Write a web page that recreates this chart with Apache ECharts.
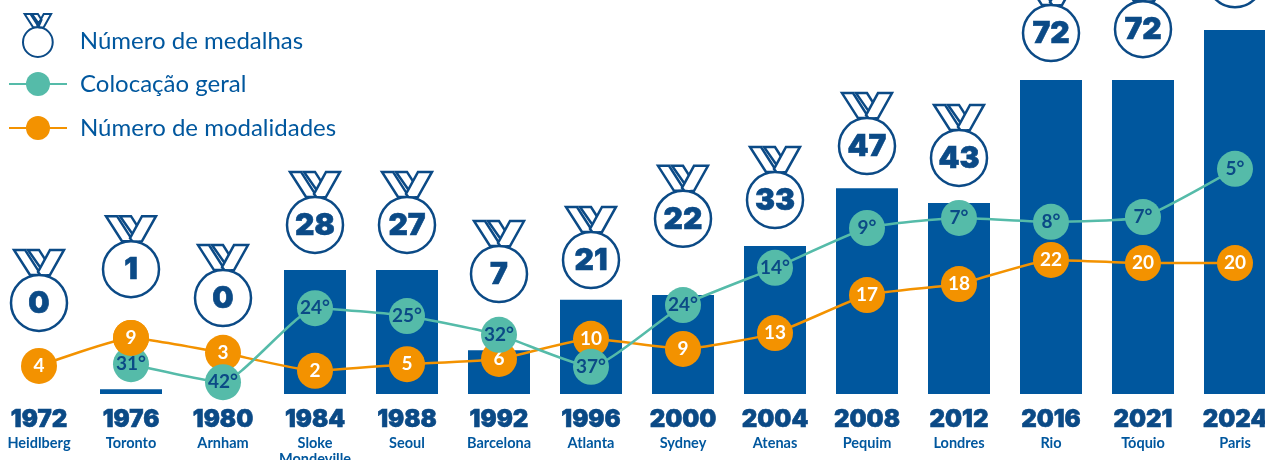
<!DOCTYPE html>
<html>
<head>
<meta charset="utf-8">
<style>
  html, body { margin: 0; padding: 0; background: #fff; overflow: hidden; }
  #chart { width: 1265px; height: 460px; }
</style>
<script src="https://cdn.jsdelivr.net/npm/echarts@6/dist/echarts.min.js"></script>
</head>
<body>
<div id="chart"></div>
<script>
const years = ["1972","1976","1980","1984","1988","1992","1996","2000","2004","2008","2012","2016","2021","2024"];
const cities = ["Heidlberg","Toronto","Arnham","Sloke\nMondeville","Seoul","Barcelona","Atlanta","Sydney","Atenas","Pequim","Londres","Rio","Tóquio","Paris"];

// bar heights and the heights the artwork puts things at (bar axis units)
const medalBars = [0, 1.1, 0, 28.3, 28.3, 10, 21.5, 22.6, 33.8, 47, 43.6, 71.7, 71.7, 83.1];
const medalHeights = [20.8, 28.5, 21.9, 38.6, 38.6, 27.4, 30.6, 40, 44.3, 56.6, 53.9, 82.4, 83.3, 94.7];
const rankHeights = [null, 6.8, 2.7, 19.6, 17.8, 13.5, 6.2, 20.3, 28.8, 37.9, 40.2, 39.3, 40.4, 51.4];
const sportHeights = [6.4, 12.8, 9.4, 5.3, 6.8, 8, 12.6, 10.3, 13.9, 22.6, 25.1, 30.6, 29.9, 29.9];

// printed numbers
const medalLabels = ["0","1","0","28","27","7","21","22","33","47","43","72","72",""];
const rankLabels = ["","31°","42°","24°","25°","32°","37°","24°","14°","9°","7°","8°","7°","5°"];
const sportLabels = ["4","9","3","2","5","6","10","9","13","17","18","22","20","20"];

const NAVY = "#0b4a86";
const BAR = "#00579e";
const TEAL = "#55bba9";
const ORANGE = "#f39200";
const TEXT_FONT = "Lato";
const HEAVY_FONT = "Inter";

// ribbon bands relative to the medal centre
const ribbonBands = [
  [[-25,-53],[-14,-53],[2,-28],[-9,-28]],
  [[-11,-53],[0,-53],[7,-42],[3,-33]],
  [[25,-53],[11,-53],[-1,-31],[2,-27],[11,-28]],
];
const MEDAL_R = 28;

const bandPath = ribbonBands.map((b) =>
  "M" + b.map((p) => p.join(" ")).join("L") + "Z").join("");
const medalIcon = "path://" + bandPath +
  `M${-MEDAL_R} 0A${MEDAL_R} ${MEDAL_R} 0 1 1 ${MEDAL_R} 0A${MEDAL_R} ${MEDAL_R} 0 1 1 ${-MEDAL_R} 0Z`;

const renderMedal = (params, api) => {
  const [cx, cy] = api.coord([api.value(0), api.value(1)]);
  const style = { fill: "#fff", stroke: NAVY, lineWidth: 2.5 };
  const bands = ribbonBands.map((b) => ({
    type: "polygon",
    shape: { points: b.map(([x, y]) => [cx + x, cy + y]) },
    style,
  }));
  return {
    type: "group",
    children: [
      ...bands,
      { type: "circle", shape: { cx, cy, r: MEDAL_R }, style },
      {
        type: "text",
        style: {
          x: cx,
          y: cy + 1,
          text: medalLabels[params.dataIndex],
          fill: NAVY,
          stroke: NAVY,
          lineWidth: 0.6,
          font: `900 30px ${HEAVY_FONT}`,
          align: "center",
          verticalAlign: "middle",
        },
      },
    ],
  };
};

const pointLabel = (labels, color) => ({
  show: true,
  position: "inside",
  formatter: (p) => labels[p.dataIndex],
  color,
  fontFamily: TEXT_FONT,
  fontWeight: 700,
  fontSize: 19,
});

const legendBase = {
  orient: "vertical",
  padding: 0,
  itemWidth: 58,
  textStyle: { color: BAR, fontFamily: TEXT_FONT, fontSize: 24, padding: [0, 0, 0, 8] },
};

const chart = echarts.init(document.getElementById("chart"));
chart.setOption({
  animation: false,
  backgroundColor: "#fff",
  grid: { left: -7, right: -16, top: -44, bottom: 66, outerBoundsMode: "none" },
  legend: [
    {
      ...legendBase,
      left: 22,
      top: 13,
      itemHeight: 43,
      data: [{ name: "Número de medalhas", icon: medalIcon }],
      itemStyle: { color: "#fff", borderColor: NAVY, borderWidth: 2 },
      // text sits level with the ring, not the middle of the whole icon
      formatter: (name) => "\n" + name,
      textStyle: { ...legendBase.textStyle, lineHeight: 11 },
    },
    {
      ...legendBase,
      left: 8,
      top: 72,
      itemHeight: 30,
      itemGap: 20,
      data: ["Colocação geral", "Número de modalidades"],
    },
  ],
  xAxis: {
    type: "category",
    data: years,
    axisLine: { show: false },
    axisTick: { show: false },
    axisLabel: {
      interval: 0,
      margin: 11,
      verticalAlign: "top",
      formatter: (v, i) => {
        const lines = cities[i].split("\n").map((c) => `{city|${c}}`).join("\n");
        return `{year|${v}}\n${lines}`;
      },
      rich: {
        year: { fontFamily: HEAVY_FONT, fontWeight: 900, fontSize: 24, color: NAVY, lineHeight: 30, textBorderColor: NAVY, textBorderWidth: 0.6 },
        city: { fontFamily: TEXT_FONT, fontWeight: 700, fontSize: 14.5, color: BAR, lineHeight: 16 },
      },
    },
  },
  yAxis: { type: "value", min: 0, max: 100, show: false },
  series: [
    {
      name: "Medalhas (barras)",
      type: "bar",
      data: medalBars,
      barWidth: 62,
      itemStyle: { color: BAR },
      z: 1,
    },
    {
      name: "Número de medalhas",
      type: "custom",
      data: medalHeights.map((v, i) => [i, v]),
      encode: { x: 0, y: 1 },
      renderItem: renderMedal,
      clip: false,
      itemStyle: { color: "#fff", borderColor: NAVY, borderWidth: 2 },
      z: 2,
    },
    {
      name: "Número de modalidades",
      type: "line",
      data: sportHeights,
      smooth: 0.15,
      symbol: "circle",
      symbolSize: 36,
      lineStyle: { color: ORANGE, width: 2.5 },
      itemStyle: { color: ORANGE },
      label: pointLabel(sportLabels, "#fff"),
      z: 3,
    },
    {
      name: "Colocação geral",
      type: "line",
      data: rankHeights,
      smooth: 0.15,
      symbol: "circle",
      symbolSize: 36,
      lineStyle: { color: TEAL, width: 2.5 },
      itemStyle: { color: TEAL },
      label: pointLabel(rankLabels, NAVY),
      z: 4,
    },
    // 1976 is the one year where the orange dot sits over the teal one
    {
      name: "Modalidades 1976",
      type: "line",
      data: sportHeights.map((v, i) => (years[i] === "1976" ? v : null)),
      symbol: "circle",
      symbolSize: 36,
      showSymbol: true,
      itemStyle: { color: ORANGE },
      label: pointLabel(sportLabels, "#fff"),
      z: 5,
    },
  ],
});
</script>
</body>
</html>
